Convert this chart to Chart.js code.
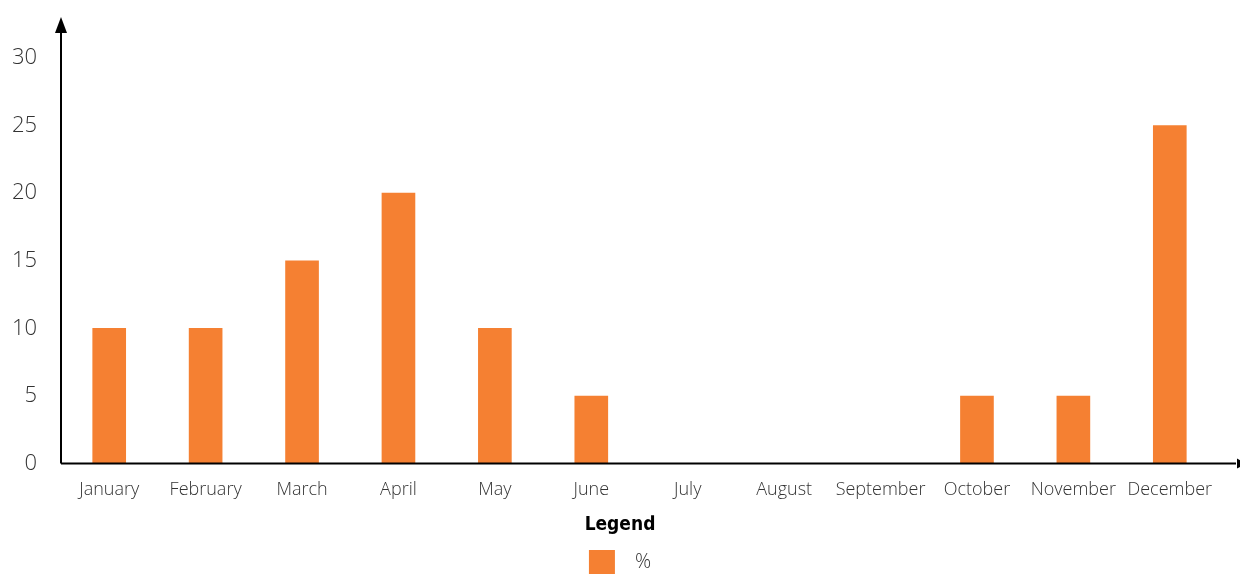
<!DOCTYPE html>
<html>
<head>
<meta charset="utf-8">
<script src="https://cdn.jsdelivr.net/npm/chart.js@4/dist/chart.umd.min.js"></script>
<style>
  html, body { margin: 0; padding: 0; background: #fff; overflow: hidden; }
  #wrap { width: 1240px; height: 584px; position: relative; }
</style>
</head>
<body>
<div id="wrap"><canvas id="chart"></canvas></div>
<script>
// Monthly shares
const months = ['January', 'February', 'March', 'April', 'May', 'June', 'July',
  'August', 'September', 'October', 'November', 'December'];
const percent = [10, 10, 15, 20, 10, 5, 0, 0, 0, 5, 5, 25];
const yTicks = [0, 5, 10, 15, 20, 25, 30];

const barColor = '#F58032';
const textColor = '#333333';

// draws the two axes with arrow heads, like the original
const arrowAxes = {
  id: 'arrowAxes',
  afterDatasetsDraw(chart) {
    const { ctx, chartArea: a } = chart;
    const x0 = a.left, y0 = a.bottom;
    ctx.save();
    ctx.strokeStyle = '#000';
    ctx.fillStyle = '#000';
    ctx.lineWidth = 2;
    ctx.beginPath();
    ctx.moveTo(x0, y0);
    ctx.lineTo(x0, 28);
    ctx.moveTo(x0, y0);
    ctx.lineTo(1236, y0);
    ctx.stroke();
    // up arrow
    ctx.beginPath();
    ctx.moveTo(x0, 17);
    ctx.lineTo(x0 - 6, 33);
    ctx.lineTo(x0 + 6, 33);
    ctx.closePath();
    ctx.fill();
    // right arrow (mostly off the edge)
    ctx.beginPath();
    ctx.moveTo(1246, y0);
    ctx.lineTo(1237, y0 - 5);
    ctx.lineTo(1237, y0 + 5);
    ctx.closePath();
    ctx.fill();
    ctx.restore();
  }
};

new Chart(document.getElementById('chart'), {
  type: 'bar',
  data: {
    labels: months,
    datasets: [{
      label: '%',
      data: percent,
      backgroundColor: barColor,
      barThickness: 33
    }]
  },
  options: {
    responsive: true,
    maintainAspectRatio: false,
    animation: false,
    layout: { padding: { top: 58, right: 0, left: 0, bottom: 0 } },
    scales: {
      x: {
        grid: { display: false, drawTicks: false },
        border: { display: false },
        ticks: {
          color: textColor,
          padding: 15,
          maxRotation: 0,
          autoSkip: false,
          font: { family: 'Open Sans', size: 18, weight: 300 }
        }
      },
      y: {
        min: 0,
        max: 30,
        afterFit: (s) => { s.width = 61; },
        afterBuildTicks: (s) => { s.ticks = yTicks.map(v => ({ value: v })); },
        grid: { display: false, drawTicks: false },
        border: { display: false },
        ticks: {
          color: textColor,
          padding: 24,
          font: { family: 'Open Sans', size: 22, weight: 300 }
        }
      },
      // empty right-hand strip, keeps the legend centred on the page
      yRight: {
        position: 'right',
        afterFit: (s) => { s.width = 22; },
        grid: { display: false, drawTicks: false },
        border: { display: false },
        ticks: { display: false }
      }
    },
    plugins: {
      tooltip: { enabled: false },
      legend: {
        position: 'bottom',
        title: {
          display: true,
          text: 'Legend',
          color: '#000',
          padding: { top: 0, bottom: 0 },
          font: { family: "'DejaVu Sans Condensed', 'Liberation Sans Narrow', Roboto, sans-serif", size: 19, weight: 'bold' }
        },
        labels: {
          boxWidth: 26,
          boxHeight: 24,
          padding: 12,
          color: textColor,
          font: { family: 'Open Sans', size: 20, weight: 300 },
          // a bit more room between swatch and text
          generateLabels: (chart) => Chart.defaults.plugins.legend.labels.generateLabels(chart)
            .map(item => ({ ...item, text: '\u2002' + item.text }))
        }
      }
    }
  },
  plugins: [arrowAxes]
});
</script>
</body>
</html>
